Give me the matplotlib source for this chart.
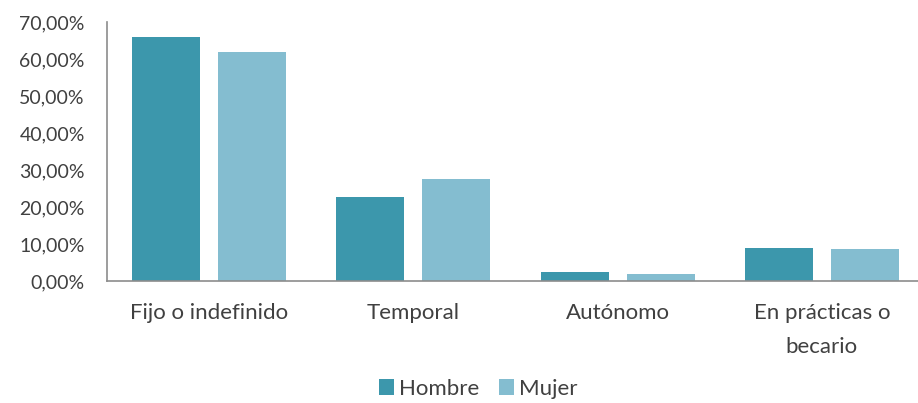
import numpy as np
import matplotlib.pyplot as plt
from matplotlib.ticker import FuncFormatter, MultipleLocator

categorias = ['Fijo o indefinido', 'Temporal', 'Autónomo', 'En prácticas o\nbecario']
hombre = [65.9, 22.7, 2.4, 9.0]
mujer = [61.8, 27.5, 2.0, 8.7]

COL_H = '#3C97AC'
COL_M = '#84BDD0'
TXT = '#404040'

plt.rcParams['font.family'] = ['Lato', 'DejaVu Sans']

fig = plt.figure(figsize=(9.18, 4.03), dpi=100)
ax = fig.add_axes([107 / 918, 1 - 281 / 403, 0.89, 259 / 403])

x = np.arange(len(categorias))
w = 0.333
off = 0.211
ax.bar(x - off, hombre, w, color=COL_H, label='Hombre')
ax.bar(x + off, mujer, w, color=COL_M, label='Mujer')

ax.set_xlim(-0.5, 3.5)
ax.set_ylim(0, 70)
ax.yaxis.set_major_locator(MultipleLocator(10))
ax.yaxis.set_major_formatter(FuncFormatter(lambda v, p: f'{v:.2f}'.replace('.', ',') + '%'))
ax.set_xticks(x)
ax.set_xticklabels(categorias, linespacing=1.85)

for s in ['top', 'right']:
    ax.spines[s].set_visible(False)
for s in ['left', 'bottom']:
    ax.spines[s].set_color('#8c8c8c')
    ax.spines[s].set_linewidth(1.2)

ax.tick_params(axis='y', length=0, pad=16, labelsize=14, labelcolor=TXT)
ax.tick_params(axis='x', length=0, pad=16, labelsize=16, labelcolor=TXT)

fig.legend(loc='center', bbox_to_anchor=(478 / 918, 1 - 389 / 403), ncol=2,
           frameon=False, fontsize=16, handlelength=0.7, handleheight=0.7,
           handletextpad=0.2, columnspacing=0.9, labelcolor=TXT)

fig.savefig('out.png', dpi=100)
